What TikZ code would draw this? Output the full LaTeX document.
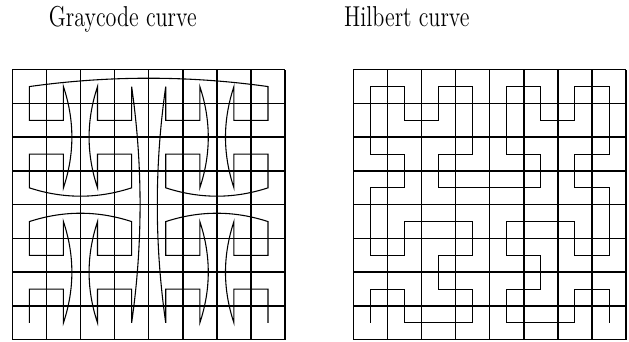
\documentclass[tikz,border=0pt]{standalone}
\usepackage{graphicx}
\begin{document}
\begin{tikzpicture}[x=0.5cm,y=0.4949cm,
    griglia/.style={line width=0.6pt},
    curva/.style={line width=0.45pt},
    titolo/.style={anchor=base,font=\fontsize{12}{14}\selectfont}]
    \useasboundingbox (-0.36,-0.04) rectangle (18.085,10.065);

    % Titoli
    \node[titolo] (tgray) at (3.24,9.265) {\scalebox{0.77}[1]{Graycode curve}};
    \node[titolo] (thilb) at (11.57,9.265) {\scalebox{0.77}[1]{Hilbert curve}};

    % Griglie
    \draw[griglia,step={(1,1)}] (0,0) grid (8,8);
    \draw[griglia,step={(1,1)}] (10,0) grid (18,8);

    % Centri delle celle
    \foreach \i in {0,...,7} {
        \foreach \j in {0,...,7} {
            \coordinate (g\i\j) at (\i+0.5,\j+0.5);
            \coordinate (h\i\j) at (10.5+\i,\j+0.5);
        }
    }

    % Curva di Gray
    \draw[curva] (g00) -- (g01) -- (g11) -- (g10)
        .. controls +(0.33,1) and +(0.33,-1) .. (g13) -- (g12) -- (g02) -- (g03)
        .. controls +(1,0.33) and +(-1,0.33) .. (g33) -- (g32) -- (g22) -- (g23)
        .. controls +(-0.33,-1) and +(-0.33,1) .. (g20) -- (g21) -- (g31) -- (g30)
        .. controls +(0.33,2.33) and +(0.33,-2.33) .. (g37) -- (g36) -- (g26) -- (g27)
        .. controls +(-0.33,-1) and +(-0.33,1) .. (g24) -- (g25) -- (g35) -- (g34)
        .. controls +(-1,-0.33) and +(1,-0.33) .. (g04) -- (g05) -- (g15) -- (g14)
        .. controls +(0.33,1) and +(0.33,-1) .. (g17) -- (g16) -- (g06) -- (g07)
        .. controls +(2.33,0.33) and +(-2.33,0.33) .. (g77) -- (g76) -- (g66) -- (g67)
        .. controls +(-0.33,-1) and +(-0.33,1) .. (g64) -- (g65) -- (g75) -- (g74)
        .. controls +(-1,-0.33) and +(1,-0.33) .. (g44) -- (g45) -- (g55) -- (g54)
        .. controls +(0.33,1) and +(0.33,-1) .. (g57) -- (g56) -- (g46) -- (g47)
        .. controls +(-0.33,-2.33) and +(-0.33,2.33) .. (g40) -- (g41) -- (g51) -- (g50)
        .. controls +(0.33,1) and +(0.33,-1) .. (g53) -- (g52) -- (g42) -- (g43)
        .. controls +(1,0.33) and +(-1,0.33) .. (g73) -- (g72) -- (g62) -- (g63)
        .. controls +(-0.33,-1) and +(-0.33,1) .. (g60) -- (g61) -- (g71) -- (g70);

    % Curva di Hilbert
    \draw[curva] (h00) \foreach \p in {01,11,10,20,30,31,21,22,32,33,23,13,12,02,03,
        04,14,15,05,06,07,17,16,26,27,37,36,35,25,24,34,
        44,54,55,45,46,47,57,56,66,67,77,76,75,65,64,74,
        73,72,62,63,53,43,42,52,51,41,40,50,60,61,71,70} { -- (h\p) };
\end{tikzpicture}
\end{document}
